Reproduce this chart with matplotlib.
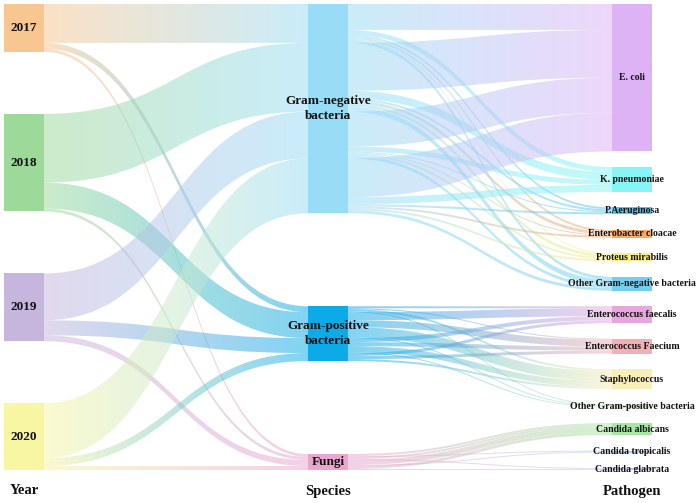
import numpy as np
import matplotlib
matplotlib.use("Agg")
import matplotlib.pyplot as plt
from matplotlib.path import Path
from matplotlib.patches import PathPatch, Rectangle
from matplotlib.colors import to_rgba

# ---------------- data ----------------
years = ['2017', '2018', '2019', '2020']
species = ['Gram-negative\nbacteria', 'Gram-positive\nbacteria', 'Fungi']
pathogens = ['E. coli', 'K. pneumoniae', 'P.Aeruginosa', 'Enterobacter cloacae',
             'Proteus mirabilis', 'Other Gram-negative bacteria',
             'Enterococcus faecalis', 'Enterococcus Faecium', 'Staphylococcus',
             'Other Gram-positive bacteria',
             'Candida albicans', 'Candida tropicalis', 'Candida glabrata']
pathogen_species = [0, 0, 0, 0, 0, 0, 1, 1, 1, 1, 2, 2, 2]

counts_2017 = [26, 5, 2, 2, 1, 3, 2, 1, 2, 1, 2, 1, 0]
counts_2018 = [48, 8, 2, 3, 3, 5, 8, 7, 10, 1, 2, 0, 1]
counts_2019 = [35, 5, 1, 1, 2, 3, 4, 4, 6, 1, 5, 1, 0]
counts_2020 = [39, 7, 2, 2, 2, 3, 3, 3, 2, 0, 3, 0, 1]
counts = [counts_2017, counts_2018, counts_2019, counts_2020]

year_colors = ['#F8C690', '#9DDA9A', '#C6B6DE', '#F8F5A3']
species_colors = ['#99DCF6', '#0DAAE8', '#E9A7CF']
pathogen_colors = ['#DDB3F5', '#86F5F3', '#55C6EE', '#F6A868', '#F8EF7E', '#72D0EF',
                   '#E8A6DE', '#F2B0B6', '#F7EEB8', '#CDEBB8',
                   '#A8E6A3', '#AECBF0', '#C0C6F2']

column_titles = ['Year', 'Species', 'Pathogen']

# ---------------- layout ----------------
W, H = 700, 503
top, bottom = 4, 470
col_x = [4, 308, 612]
node_w = 40
link_alpha = 0.52

ny, ns, npth = len(years), len(species), len(pathogens)
ys_links = []   # (year, species, value)
for yi in range(ny):
    for si in range(ns):
        v = sum(counts[yi][p] for p in range(npth) if pathogen_species[p] == si)
        if v > 0:
            ys_links.append((yi, si, v))
sp_links = []   # (species, pathogen, year, value)
for yi in range(ny):
    for p in range(npth):
        v = counts[yi][p]
        if v > 0:
            sp_links.append((pathogen_species[p], p, yi, v))

year_val = [sum(counts[yi]) for yi in range(ny)]
spec_val = [sum(v for (_, s, v) in ys_links if s == si) for si in range(ns)]
path_val = [sum(counts[yi][p] for yi in range(ny)) for p in range(npth)]

columns = [year_val, spec_val, path_val]
minpad = 15.5
ky = min((bottom - top - (len(c) - 1) * minpad) / sum(c) for c in columns)

def place(vals):
    tot = ky * sum(vals)
    gap = (bottom - top - tot) / (len(vals) - 1)
    pos, y = [], top
    for v in vals:
        pos.append(y)
        y += ky * v + gap
    return pos

year_y = place(year_val)
spec_y = place(spec_val)
path_y = place(path_val)

fig = plt.figure(figsize=(W / 100, H / 100), dpi=100)
ax = fig.add_axes([0, 0, 1, 1])
ax.set_xlim(0, W)
ax.set_ylim(H, 0)
ax.axis('off')

def ribbon(x0, y0, x1, y1, h, c0, c1):
    xm = (x0 + x1) / 2
    verts = [(x0, y0), (xm, y0), (xm, y1), (x1, y1),
             (x1, y1 + h), (xm, y1 + h), (xm, y0 + h), (x0, y0 + h), (x0, y0)]
    codes = [Path.MOVETO, Path.CURVE4, Path.CURVE4, Path.CURVE4,
             Path.LINETO, Path.CURVE4, Path.CURVE4, Path.CURVE4, Path.CLOSEPOLY]
    patch = PathPatch(Path(verts, codes), facecolor='none', edgecolor='none')
    ax.add_patch(patch)
    n = 128
    a = np.array(to_rgba(c0))
    b = np.array(to_rgba(c1))
    t = np.linspace(0, 1, n)[:, None]
    grad = (a * (1 - t) + b * t)
    grad[:, 3] = link_alpha
    img = ax.imshow(grad[None, :, :], extent=[x0, x1, max(y0, y1) + h + 1, min(y0, y1) - 1],
                    aspect='auto', interpolation='bilinear', zorder=1)
    img.set_clip_path(patch)

out_off = list(year_y)
in_off = list(spec_y)
for (yi, si, v) in ys_links:
    h = ky * v
    ribbon(col_x[0] + node_w, out_off[yi], col_x[1], in_off[si], h,
           year_colors[yi], species_colors[si])
    out_off[yi] += h
    in_off[si] += h

out_off = list(spec_y)
in_off = list(path_y)
for (si, p, yi, v) in sp_links:
    h = ky * v
    ribbon(col_x[1] + node_w, out_off[si], col_x[2], in_off[p], h,
           species_colors[si], pathogen_colors[p])
    out_off[si] += h
    in_off[p] += h

font = dict(family='Liberation Serif', weight='bold', color='#111111')

def nodes(x, ypos, vals, colors, labels, size, ls=1.1):
    for y, v, c, lab in zip(ypos, vals, colors, labels):
        ax.add_patch(Rectangle((x, y), node_w, ky * v, facecolor=c, edgecolor='none', zorder=3))
        ax.text(x + node_w / 2, y + ky * v / 2, lab, ha='center', va='center',
                fontsize=size, zorder=4, linespacing=ls, **font)

nodes(col_x[0], year_y, year_val, year_colors, years, 9.5)
nodes(col_x[1], spec_y, spec_val, species_colors, species, 9.5, ls=1.35)
nodes(col_x[2], path_y, path_val, pathogen_colors, pathogens, 7)

for x, t in zip(col_x, column_titles):
    ax.text(x + node_w / 2, 491, t, ha='center', va='center', fontsize=10.5, **font)

fig.savefig('out.png', dpi=100)
